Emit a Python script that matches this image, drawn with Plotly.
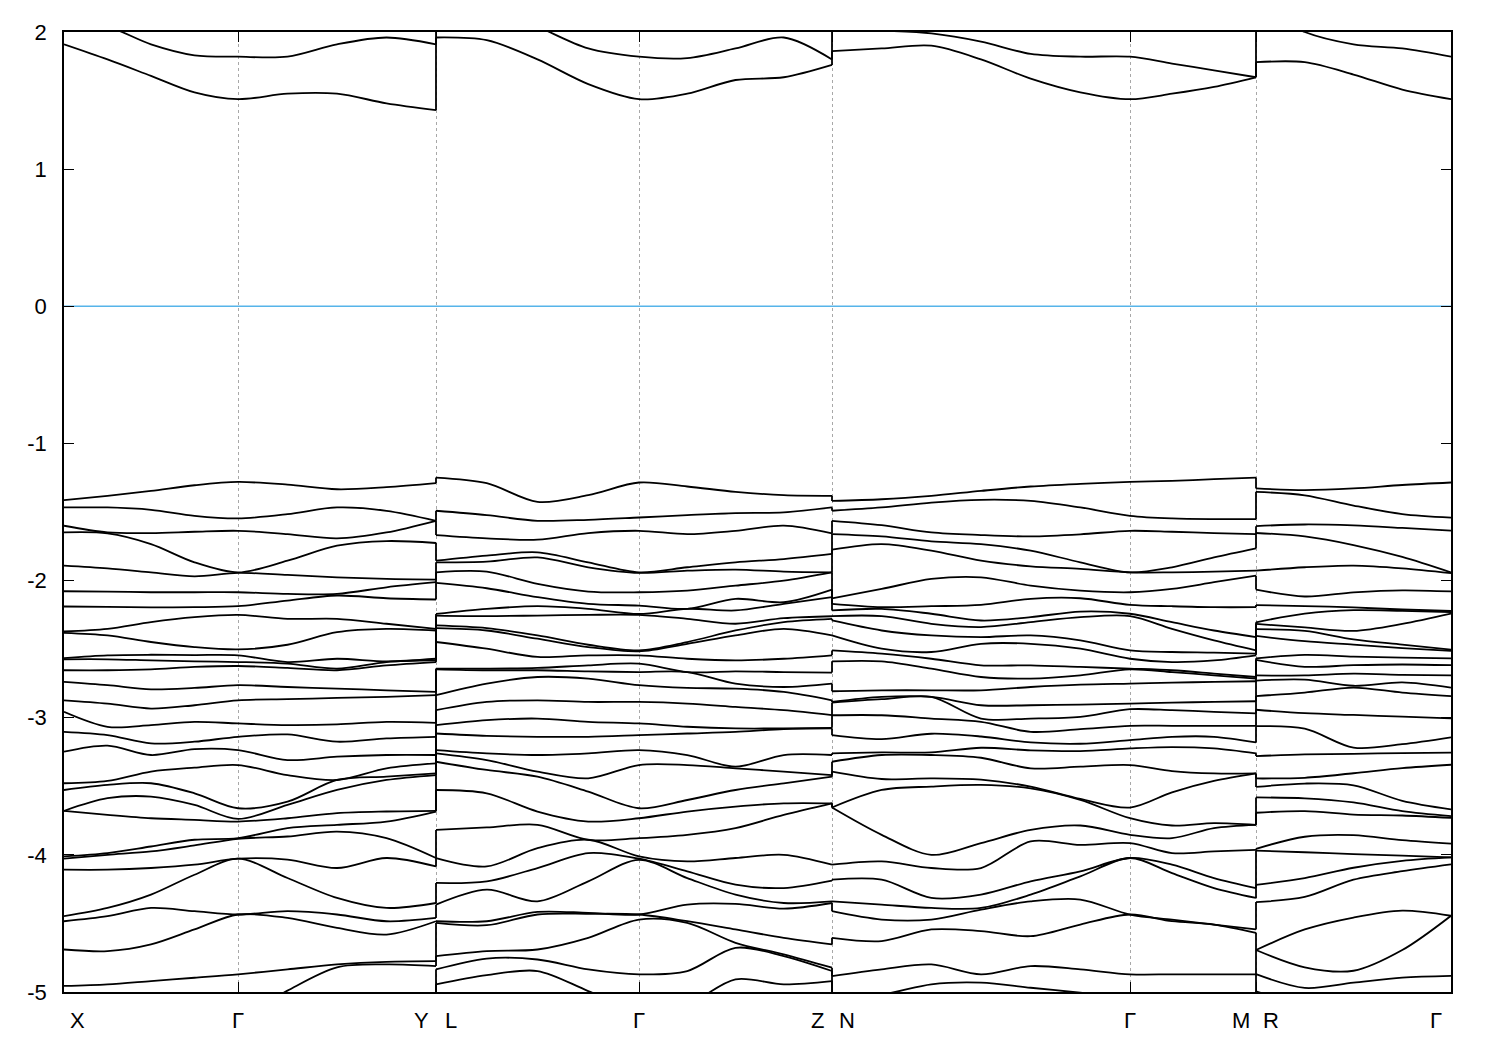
import numpy as np
import plotly.graph_objects as go

# ---- k-path (high-symmetry nodes, arbitrary path units) ----
k_nodes = [0.0, 174.0, 372.0, 575.0, 768.0, 1066.0, 1192.0, 1387.0]
k_labels = ["X", "Γ", "Y", "L", "Γ", "Z", "N", "Γ", "M", "R", "Γ"]
k_label_node = [0, 1, 2, 2, 3, 4, 4, 5, 6, 6, 7]

# ---- conduction bands (eV), sampled along each segment ----
cb_XGY = [
    [1.91, 1.80, 1.68, 1.56, 1.51, 1.55, 1.55, 1.48, 1.43],
    [2.09, 2.04, 1.91, 1.83, 1.82, 1.82, 1.91, 1.96, 1.91],
]
cb_LGZ = [
    [1.96, 1.94, 1.80, 1.62, 1.51, 1.55, 1.65, 1.67, 1.76],
    [2.17, 2.20, 2.04, 1.88, 1.82, 1.81, 1.88, 1.96, 1.80],
]
cb_NGM = [
    [1.86, 1.88, 1.90, 1.80, 1.66, 1.56, 1.51, 1.55, 1.60, 1.67],
    [2.02, 2.01, 1.99, 1.93, 1.84, 1.82, 1.82, 1.77, 1.72, 1.67],
]
cb_RG = [
    [1.78, 1.78, 1.69, 1.58, 1.51],
    [2.20, 2.00, 1.91, 1.88, 1.82],
]

# ---- valence bands (eV) ----
vb_XGY = [
    [-1.414, -1.382, -1.346, -1.305, -1.281, -1.300, -1.334, -1.319, -1.290],
    [-1.467, -1.467, -1.484, -1.528, -1.547, -1.516, -1.467, -1.491, -1.564],
    [-1.600, -1.649, -1.734, -1.867, -1.940, -1.855, -1.746, -1.649, -1.564],
    [-1.649, -1.656, -1.654, -1.644, -1.637, -1.661, -1.692, -1.712, -1.726],
    [-1.891, -1.911, -1.940, -1.969, -1.944, -1.959, -1.976, -1.988, -1.993],
    [-2.078, -2.080, -2.085, -2.085, -2.085, -2.097, -2.109, -2.129, -2.138],
    [-2.189, -2.192, -2.196, -2.194, -2.187, -2.146, -2.097, -2.049, -2.012],
    [-2.371, -2.352, -2.303, -2.267, -2.250, -2.279, -2.279, -2.315, -2.352],
    [-2.381, -2.400, -2.448, -2.485, -2.502, -2.468, -2.376, -2.352, -2.364],
    [-2.565, -2.545, -2.541, -2.543, -2.545, -2.594, -2.642, -2.618, -2.582],
    [-2.574, -2.574, -2.582, -2.589, -2.594, -2.606, -2.570, -2.589, -2.594],
    [-2.654, -2.654, -2.647, -2.630, -2.623, -2.637, -2.654, -2.594, -2.570],
    [-2.739, -2.763, -2.793, -2.783, -2.763, -2.776, -2.788, -2.800, -2.812],
    [-2.873, -2.897, -2.933, -2.909, -2.873, -2.865, -2.856, -2.848, -2.836],
    [-2.957, -3.066, -3.054, -3.030, -3.042, -3.054, -3.049, -3.030, -3.037],
    [-3.103, -3.127, -3.187, -3.175, -3.139, -3.122, -3.175, -3.151, -3.139],
    [-3.248, -3.204, -3.272, -3.229, -3.236, -3.309, -3.284, -3.272, -3.272],
    [-3.478, -3.461, -3.393, -3.364, -3.345, -3.418, -3.454, -3.430, -3.418],
    [-3.527, -3.490, -3.478, -3.551, -3.660, -3.612, -3.454, -3.369, -3.333],
    [-3.679, -3.587, -3.575, -3.636, -3.738, -3.636, -3.527, -3.454, -3.406],
    [-3.679, -3.708, -3.733, -3.745, -3.757, -3.733, -3.696, -3.684, -3.679],
    [-4.011, -3.987, -3.939, -3.890, -3.878, -3.805, -3.781, -3.878, -4.023],
    [-4.028, -4.000, -3.975, -3.931, -3.883, -3.866, -3.830, -3.757, -3.684],
    [-4.108, -4.108, -4.096, -4.072, -4.028, -4.035, -4.096, -4.023, -4.084],
    [-4.484, -4.387, -4.290, -4.145, -4.028, -4.169, -4.314, -4.387, -4.351],
    [-4.447, -4.447, -4.387, -4.411, -4.435, -4.460, -4.532, -4.581, -4.484],
    [-4.690, -4.702, -4.653, -4.544, -4.435, -4.411, -4.435, -4.484, -4.460],
    [-4.956, -4.944, -4.920, -4.896, -4.871, -4.835, -4.799, -4.799, -4.811],
    [-5.300, -5.300, -5.300, -5.300, -5.200, -4.990, -4.820, -4.780, -4.775],
]
vb_LGZ = [
    [-1.249, -1.290, -1.426, -1.377, -1.285, -1.314, -1.353, -1.377, -1.382],
    [-1.491, -1.523, -1.564, -1.557, -1.540, -1.523, -1.508, -1.503, -1.467],
    [-1.668, -1.692, -1.702, -1.654, -1.637, -1.661, -1.637, -1.600, -1.656],
    [-1.855, -1.818, -1.794, -1.867, -1.940, -1.903, -1.867, -1.843, -1.806],
    [-1.867, -1.862, -1.831, -1.903, -1.944, -1.928, -1.920, -1.935, -1.940],
    [-1.940, -1.935, -2.024, -2.080, -2.085, -2.073, -2.037, -2.000, -1.940],
    [-2.017, -2.056, -2.121, -2.170, -2.182, -2.206, -2.218, -2.158, -2.066],
    [-2.243, -2.206, -2.187, -2.206, -2.243, -2.279, -2.315, -2.274, -2.260],
    [-2.255, -2.259, -2.255, -2.250, -2.250, -2.206, -2.133, -2.170, -2.121],
    [-2.327, -2.347, -2.400, -2.468, -2.509, -2.448, -2.364, -2.303, -2.279],
    [-2.347, -2.364, -2.424, -2.485, -2.516, -2.461, -2.400, -2.352, -2.400],
    [-2.448, -2.497, -2.557, -2.545, -2.545, -2.570, -2.582, -2.570, -2.545],
    [-2.642, -2.642, -2.637, -2.618, -2.606, -2.667, -2.751, -2.812, -2.873],
    [-2.647, -2.654, -2.654, -2.662, -2.667, -2.667, -2.662, -2.667, -2.671],
    [-2.836, -2.751, -2.703, -2.715, -2.763, -2.783, -2.788, -2.776, -2.751],
    [-2.945, -2.885, -2.873, -2.885, -2.885, -2.897, -2.921, -2.945, -2.981],
    [-3.054, -3.018, -3.006, -3.030, -3.042, -3.066, -3.078, -3.078, -3.078],
    [-3.115, -3.132, -3.139, -3.139, -3.127, -3.115, -3.103, -3.083, -3.074],
    [-3.236, -3.260, -3.272, -3.260, -3.236, -3.272, -3.369, -3.272, -3.272],
    [-3.260, -3.309, -3.393, -3.442, -3.345, -3.345, -3.357, -3.393, -3.418],
    [-3.321, -3.381, -3.430, -3.539, -3.660, -3.600, -3.527, -3.478, -3.430],
    [-3.527, -3.551, -3.684, -3.757, -3.733, -3.684, -3.648, -3.624, -3.624],
    [-3.818, -3.800, -3.781, -3.890, -3.878, -3.854, -3.805, -3.708, -3.624],
    [-4.023, -4.084, -3.951, -3.890, -4.011, -4.048, -4.023, -4.000, -4.072],
    [-4.205, -4.193, -4.096, -3.987, -4.028, -4.120, -4.217, -4.242, -4.188],
    [-4.363, -4.254, -4.339, -4.193, -4.036, -4.169, -4.290, -4.351, -4.351],
    [-4.484, -4.513, -4.416, -4.423, -4.435, -4.363, -4.358, -4.392, -4.339],
    [-4.496, -4.484, -4.435, -4.430, -4.435, -4.484, -4.544, -4.605, -4.653],
    [-4.738, -4.702, -4.690, -4.605, -4.472, -4.496, -4.641, -4.726, -4.823],
    [-4.835, -4.756, -4.763, -4.835, -4.871, -4.847, -4.678, -4.738, -4.847],
    [-4.944, -4.877, -4.847, -4.993, -5.138, -5.090, -4.908, -4.944, -4.920],
]
vb_NGM = [
    [-1.419, -1.407, -1.382, -1.346, -1.314, -1.295, -1.281, -1.273, -1.261, -1.249],
    [-1.491, -1.467, -1.431, -1.411, -1.419, -1.467, -1.528, -1.547, -1.552, -1.552],
    [-1.564, -1.596, -1.649, -1.668, -1.678, -1.663, -1.637, -1.644, -1.654, -1.661],
    [-1.661, -1.678, -1.782, -1.855, -1.896, -1.915, -1.940, -1.903, -1.831, -1.765],
    [-1.775, -1.734, -1.714, -1.734, -1.782, -1.867, -1.940, -1.940, -1.935, -1.928],
    [-2.129, -2.061, -1.988, -1.976, -2.037, -2.073, -2.085, -2.061, -2.012, -1.964],
    [-2.170, -2.194, -2.187, -2.177, -2.133, -2.129, -2.177, -2.187, -2.194, -2.194],
    [-2.218, -2.206, -2.242, -2.291, -2.267, -2.226, -2.242, -2.303, -2.364, -2.412],
    [-2.259, -2.259, -2.315, -2.339, -2.303, -2.267, -2.259, -2.352, -2.436, -2.509],
    [-2.291, -2.364, -2.400, -2.412, -2.400, -2.436, -2.509, -2.521, -2.526, -2.533],
    [-2.400, -2.497, -2.521, -2.461, -2.461, -2.497, -2.570, -2.594, -2.582, -2.545],
    [-2.509, -2.533, -2.570, -2.618, -2.618, -2.630, -2.642, -2.654, -2.678, -2.703],
    [-2.589, -2.589, -2.642, -2.703, -2.715, -2.691, -2.647, -2.667, -2.691, -2.715],
    [-2.807, -2.800, -2.800, -2.800, -2.776, -2.759, -2.751, -2.744, -2.739, -2.734],
    [-2.885, -2.865, -2.848, -2.909, -2.909, -2.904, -2.897, -2.890, -2.885, -2.880],
    [-2.889, -2.848, -2.848, -3.006, -3.006, -2.994, -2.938, -2.945, -2.957, -2.969],
    [-2.982, -2.982, -3.006, -3.030, -3.103, -3.083, -3.059, -3.059, -3.059, -3.059],
    [-3.127, -3.156, -3.117, -3.137, -3.180, -3.190, -3.163, -3.139, -3.139, -3.180],
    [-3.260, -3.253, -3.253, -3.219, -3.238, -3.243, -3.224, -3.214, -3.224, -3.260],
    [-3.321, -3.272, -3.272, -3.292, -3.369, -3.357, -3.345, -3.389, -3.406, -3.406],
    [-3.393, -3.447, -3.442, -3.452, -3.502, -3.599, -3.655, -3.544, -3.461, -3.406],
    [-3.655, -3.527, -3.502, -3.490, -3.515, -3.592, -3.733, -3.786, -3.769, -3.781],
    [-3.655, -3.854, -4.000, -3.914, -3.818, -3.786, -3.854, -3.878, -3.805, -3.781],
    [-4.072, -4.048, -4.096, -4.096, -3.902, -3.927, -3.914, -3.987, -3.975, -3.963],
    [-4.181, -4.181, -4.314, -4.290, -4.193, -4.120, -4.023, -4.072, -4.169, -4.242],
    [-4.339, -4.363, -4.387, -4.387, -4.290, -4.157, -4.023, -4.133, -4.242, -4.314],
    [-4.411, -4.472, -4.472, -4.399, -4.339, -4.326, -4.435, -4.484, -4.508, -4.544],
    [-4.605, -4.629, -4.544, -4.556, -4.593, -4.508, -4.435, -4.472, -4.508, -4.569],
    [-4.884, -4.835, -4.799, -4.871, -4.811, -4.835, -4.871, -4.871, -4.871, -4.871],
    [-5.017, -5.017, -4.944, -4.932, -4.969, -5.005, -5.041, -5.041, -5.041, -5.041],
]
vb_RG = [
    [-1.328, -1.340, -1.328, -1.303, -1.285],
    [-1.353, -1.378, -1.453, -1.515, -1.541],
    [-1.603, -1.591, -1.598, -1.616, -1.636],
    [-1.653, -1.678, -1.741, -1.828, -1.941],
    [-1.928, -1.903, -1.891, -1.911, -1.946],
    [-2.066, -2.116, -2.086, -2.071, -2.079],
    [-2.179, -2.186, -2.196, -2.211, -2.221],
    [-2.304, -2.241, -2.216, -2.221, -2.229],
    [-2.316, -2.342, -2.367, -2.316, -2.241],
    [-2.354, -2.367, -2.429, -2.467, -2.504],
    [-2.404, -2.442, -2.467, -2.492, -2.512],
    [-2.567, -2.629, -2.617, -2.612, -2.617],
    [-2.579, -2.542, -2.554, -2.562, -2.567],
    [-2.692, -2.692, -2.679, -2.687, -2.692],
    [-2.729, -2.722, -2.780, -2.742, -2.780],
    [-2.842, -2.817, -2.767, -2.817, -2.842],
    [-2.942, -2.967, -2.980, -2.992, -3.005],
    [-3.062, -3.080, -3.218, -3.193, -3.143],
    [-3.280, -3.268, -3.263, -3.258, -3.255],
    [-3.443, -3.438, -3.405, -3.368, -3.343],
    [-3.505, -3.480, -3.493, -3.606, -3.668],
    [-3.581, -3.588, -3.618, -3.681, -3.731],
    [-3.693, -3.681, -3.706, -3.713, -3.718],
    [-3.956, -3.868, -3.856, -3.893, -3.918],
    [-3.969, -3.981, -3.994, -4.006, -4.019],
    [-4.219, -4.169, -4.094, -4.044, -4.019],
    [-4.344, -4.307, -4.181, -4.119, -4.069],
    [-4.694, -4.544, -4.457, -4.407, -4.444],
    [-4.694, -4.820, -4.845, -4.694, -4.444],
    [-4.870, -4.970, -4.932, -4.895, -4.882],
    [-4.995, -5.100, -5.150, -5.150, -5.150],
]

E_MIN, E_MAX = -5.0, 2.0
PAD = -5.8

# ---- sampling positions along the path for each segment ----
n = k_nodes
seg_k = [
    np.concatenate([np.linspace(n[0], n[1], 5), np.linspace(n[1], n[2], 5)[1:]]),
    np.concatenate([np.linspace(n[2], n[3], 5), np.linspace(n[3], n[4], 5)[1:]]),
    np.concatenate([np.linspace(n[4], n[5], 7), np.linspace(n[5], n[6], 4)[1:]]),
    np.linspace(n[6], n[7], 5),
]
seg_bands = [cb_XGY + vb_XGY, cb_LGZ + vb_LGZ, cb_NGM + vb_NGM, cb_RG + vb_RG]

nb = max(len(b) for b in seg_bands)
arrs = []
for bands in seg_bands:
    a = np.array(bands, dtype=float)
    a = -np.sort(-a, axis=0)  # band ordering per k-point
    if a.shape[0] < nb:
        a = np.vstack([a, np.full((nb - a.shape[0], a.shape[1]), PAD)])
    arrs.append(a)

# curves within each segment
xs, ys = [], []
for k, a in zip(seg_k, arrs):
    for row in a:
        xs.extend(list(k) + [None])
        ys.extend(list(row) + [None])

# vertical jumps at path discontinuities
cx, cy = [], []
for s in range(len(arrs) - 1):
    kb = seg_k[s][-1]
    for b in range(nb):
        cx.extend([kb, kb, None])
        cy.extend([arrs[s][b, -1], arrs[s + 1][b, 0], None])

LW = 1.8
fig = go.Figure()
fig.add_trace(go.Scatter(x=xs, y=ys, mode="lines",
                         line=dict(color="black", width=LW, shape="spline", smoothing=0.9),
                         hoverinfo="skip", showlegend=False))
fig.add_trace(go.Scatter(x=cx, y=cy, mode="lines",
                         line=dict(color="black", width=LW),
                         hoverinfo="skip", showlegend=False))

# Fermi level
fig.add_shape(type="line", xref="x", yref="y", x0=n[0], x1=n[-1], y0=0, y1=0,
              line=dict(color="#56b4e9", width=1.5), layer="below")

font_family = "Liberation Sans, Arial, sans-serif"
for i, (lab, node) in enumerate(zip(k_labels, k_label_node)):
    if node == 0:
        shift = 13
    elif node == len(n) - 1:
        shift = -15
    elif node in (2, 4, 6):
        first = (i + 1 < len(k_label_node)) and k_label_node[i + 1] == node
        shift = -15 if first else 15
    else:
        shift = 0
    fig.add_annotation(x=n[node], y=0, xref="x", yref="paper", text=lab, showarrow=False,
                       xshift=shift, yshift=-28, yanchor="middle", xanchor="center",
                       font=dict(family=font_family, size=22, color="black"))

fig.update_layout(
    width=1500, height=1050,
    margin=dict(l=56, r=57, t=21, b=66),
    paper_bgcolor="white", plot_bgcolor="white",
    showlegend=False,
    font=dict(family=font_family, size=22, color="black"),
)
fig.update_xaxes(range=[n[0], n[-1]], tickvals=n[1:-1], showticklabels=False,
                 ticks="inside", ticklen=10, tickwidth=1, tickcolor="black",
                 showgrid=True, gridcolor="#a8a8a8", griddash="dot", gridwidth=1,
                 showline=True, linecolor="black", linewidth=1.5, mirror="ticks",
                 zeroline=False)
fig.update_yaxes(range=[E_MIN, E_MAX], tickvals=list(range(-5, 3)),
                 ticktext=[str(v) for v in range(-5, 3)],
                 ticks="inside", ticklen=10, tickwidth=1, tickcolor="black",
                 showgrid=False, showline=True, linecolor="black", linewidth=1.5,
                 mirror="ticks", zeroline=False, ticklabelstandoff=11,
                 tickfont=dict(family=font_family, size=22, color="black"))

fig.write_html("out.html")
